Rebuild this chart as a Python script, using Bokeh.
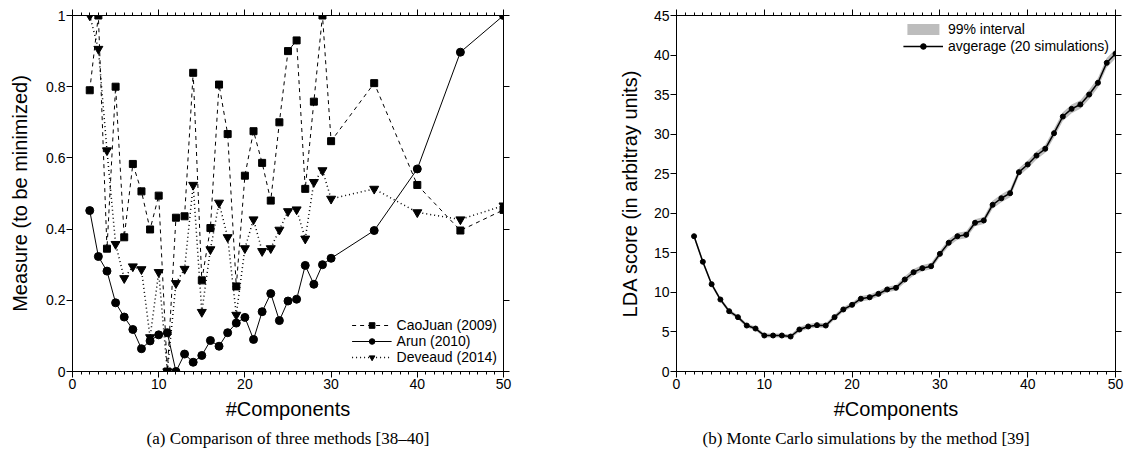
from bokeh.plotting import figure
from bokeh.models import FixedTicker, LinearAxis, Range1d, Title
from bokeh.layouts import row
from bokeh.embed import file_html
from bokeh.resources import INLINE

# ---------------- data: panel (a) ----------------
components_a = [2, 3, 4, 5, 6, 7, 8, 9, 10, 11, 12, 13, 14, 15, 16, 17, 18, 19, 20,
                21, 22, 23, 24, 25, 26, 27, 28, 29, 30, 35, 40, 45, 50]
caojuan = [0.79, 1.0, 0.345, 0.80, 0.377, 0.583, 0.506, 0.399, 0.494, 0.0, 0.432,
           0.436, 0.839, 0.256, 0.403, 0.806, 0.667, 0.239, 0.55, 0.675, 0.586,
           0.48, 0.70, 0.90, 0.93, 0.513, 0.758, 1.0, 0.647, 0.81, 0.524, 0.396, 0.454]
arun = [0.452, 0.323, 0.282, 0.193, 0.153, 0.118, 0.064, 0.086, 0.103, 0.109, 0.0,
        0.049, 0.026, 0.045, 0.087, 0.071, 0.109, 0.136, 0.152, 0.09, 0.168,
        0.219, 0.143, 0.198, 0.203, 0.298, 0.245, 0.30, 0.318, 0.396, 0.569, 0.897, 1.0]
deveaud = [1.0, 0.906, 0.621, 0.358, 0.262, 0.295, 0.287, 0.096, 0.279, 0.0, 0.248,
           0.288, 0.524, 0.167, 0.343, 0.474, 0.377, 0.159, 0.346, 0.427, 0.338,
           0.346, 0.398, 0.45, 0.455, 0.373, 0.532, 0.565, 0.485, 0.513, 0.447, 0.427, 0.466]

# ---------------- data: panel (b) ----------------
components_b = list(range(2, 51))
lda_avg = [17.1, 13.87, 11.04, 9.1, 7.62, 6.87, 5.81, 5.43, 4.55, 4.55, 4.55, 4.42,
           5.31, 5.69, 5.86, 5.81, 6.87, 7.84, 8.43, 9.2, 9.38, 9.82,
           10.37, 10.58, 11.63, 12.55, 13.06, 13.31, 14.87, 16.27, 17.1, 17.28, 18.8,
           19.09, 21.07, 21.9, 22.54,
           25.2, 26.17, 27.3, 28.15, 30.12, 32.23, 33.2, 33.75, 35.01, 36.49, 39.02, 40.16]
lda_halfwidth = [0.3, 0.3, 0.25, 0.25, 0.25, 0.25, 0.25, 0.25, 0.25, 0.25, 0.25, 0.25,
                 0.3, 0.3, 0.3, 0.3, 0.3, 0.3, 0.3, 0.35, 0.35, 0.35,
                 0.35, 0.35, 0.4, 0.4, 0.4, 0.4, 0.4, 0.45, 0.45, 0.45, 0.45,
                 0.45, 0.5, 0.5, 0.5,
                 0.5, 0.5, 0.5, 0.5, 0.55, 0.55, 0.55, 0.55, 0.6, 0.6, 0.6, 0.6]
lda_lo = [a - h for a, h in zip(lda_avg, lda_halfwidth)]
lda_hi = [a + h for a, h in zip(lda_avg, lda_halfwidth)]

x_major = [0, 10, 20, 30, 40, 50]
x_minor = list(range(0, 51))
ya_major = [0, 0.2, 0.4, 0.6, 0.8, 1.0]
ya_labels = {0: "0", 0.2: "0.2", 0.4: "0.4", 0.6: "0.6", 0.8: "0.8", 1.0: "1"}
yb_major = [0, 5, 10, 15, 20, 25, 30, 35, 40, 45]

SANS = "Liberation Sans"
SERIF = "Liberation Serif"
INK = "#000000"


def style_axis(ax, major, minor, labels=True, overrides=None):
    ax.ticker = FixedTicker(ticks=major, minor_ticks=minor)
    ax.axis_line_color = INK
    ax.axis_line_width = 1
    ax.major_tick_in = 0
    ax.major_tick_out = 6
    ax.minor_tick_in = 0
    ax.minor_tick_out = 3
    ax.major_tick_line_color = INK
    ax.major_tick_line_width = 1
    ax.minor_tick_line_color = INK if minor else None
    ax.minor_tick_line_width = 1
    ax.major_label_text_font = SANS
    ax.major_label_text_color = INK
    ax.axis_label_text_font = SANS
    ax.axis_label_text_font_style = "normal"
    ax.axis_label_text_color = INK
    ax.axis_label_text_font_size = "20px"
    if labels:
        ax.major_label_text_font_size = "14px"
        ax.major_label_standoff = 1
        if overrides:
            ax.major_label_overrides = overrides
    else:
        ax.major_label_text_font_size = "0px"
        ax.major_label_text_color = None
        ax.major_label_standoff = 0


def make_fig(fw, fh, bl, br, xr, yr):
    p = figure(frame_width=fw, frame_height=fh,
               x_range=xr, y_range=yr,
               min_border_left=bl, min_border_right=br,
               min_border_top=15, min_border_bottom=86,
               toolbar_location=None, output_backend="svg")
    p.xgrid.visible = False
    p.ygrid.visible = False
    p.outline_line_color = INK
    p.outline_line_width = 1
    p.background_fill_color = None
    p.border_fill_color = "white"
    return p


def add_mirror_axes(p, xmaj, xmin, ymaj):
    top = LinearAxis()
    style_axis(top, xmaj, xmin, labels=False)
    right = LinearAxis()
    style_axis(right, ymaj, [], labels=False)
    p.add_layout(top, "above")
    p.add_layout(right, "right")


# ---------------- panel (a) ----------------
FH = 356
p1 = make_fig(431, FH, 72, 57, Range1d(0, 50), Range1d(0, 1))
p1.line(components_a, caojuan, line_color=INK, line_width=1, line_dash="4 4",
        legend_label="CaoJuan (2009)")
p1.scatter(components_a, caojuan, marker="square", size=7, color=INK,
           legend_label="CaoJuan (2009)")
p1.line(components_a, arun, line_color=INK, line_width=1,
        legend_label="Arun (2010)")
p1.scatter(components_a, arun, marker="circle", size=8, color=INK,
           legend_label="Arun (2010)")
p1.line(components_a, deveaud, line_color=INK, line_width=1.5, line_dash="1 3",
        legend_label="Deveaud (2014)")
p1.scatter(components_a, deveaud, marker="inverted_triangle", size=9, color=INK,
           legend_label="Deveaud (2014)")

style_axis(p1.xaxis[0], x_major, x_minor)
style_axis(p1.yaxis[0], ya_major, [], overrides=ya_labels)
p1.xaxis[0].axis_label = "#Components"
p1.yaxis[0].axis_label = "Measure (to be minimized)"
p1.xaxis[0].axis_label_standoff = 6
p1.yaxis[0].axis_label_standoff = 12
add_mirror_axes(p1, x_major, x_minor, ya_major)

lg = p1.legend[0]
lg.location = "bottom_right"
lg.background_fill_alpha = 0
lg.border_line_color = None
lg.label_text_font = SANS
lg.label_text_font_size = "14px"
lg.label_text_color = INK
lg.glyph_width = 40
lg.glyph_height = 14
lg.label_height = 14
lg.spacing = 0
lg.padding = 2
lg.margin = 6

p1.add_layout(Title(text="(a) Comparison of three methods [38\u201340]", align="center",
                    text_font=SERIF, text_font_size="17px", text_font_style="normal",
                    text_color=INK, standoff=8), "below")

# ---------------- panel (b) ----------------
p2 = make_fig(439, FH, 116, 10, Range1d(0, 50), Range1d(0, 45))
p2.varea(x=components_b, y1=lda_lo, y2=lda_hi, fill_color="#bdbdbd",
         legend_label="99% interval")
p2.line(components_b, lda_avg, line_color=INK, line_width=1.5,
        legend_label="avgerage (20 simulations)")
p2.scatter(components_b, lda_avg, marker="circle", size=5, color=INK,
           legend_label="avgerage (20 simulations)")

style_axis(p2.xaxis[0], x_major, x_minor)
style_axis(p2.yaxis[0], yb_major, [])
p2.xaxis[0].axis_label = "#Components"
p2.yaxis[0].axis_label = "LDA score (in arbitray units)"
p2.xaxis[0].axis_label_standoff = 6
p2.yaxis[0].axis_label_standoff = 10
add_mirror_axes(p2, x_major, x_minor, yb_major)

lg2 = p2.legend[0]
lg2.location = "top_right"
lg2.background_fill_alpha = 0
lg2.border_line_color = None
lg2.label_text_font = SANS
lg2.label_text_font_size = "14px"
lg2.label_text_color = INK
lg2.glyph_width = 40
lg2.glyph_height = 14
lg2.label_height = 14
lg2.spacing = 1
lg2.padding = 2
lg2.margin = 6

p2.add_layout(Title(text="(b) Monte Carlo simulations by the method [39]", align="left",
                    offset=26, text_font=SERIF, text_font_size="17px",
                    text_font_style="normal", text_color=INK, standoff=8), "below")

layout = row(p1, p2)
open("out.html", "w").write(file_html(layout, INLINE))
